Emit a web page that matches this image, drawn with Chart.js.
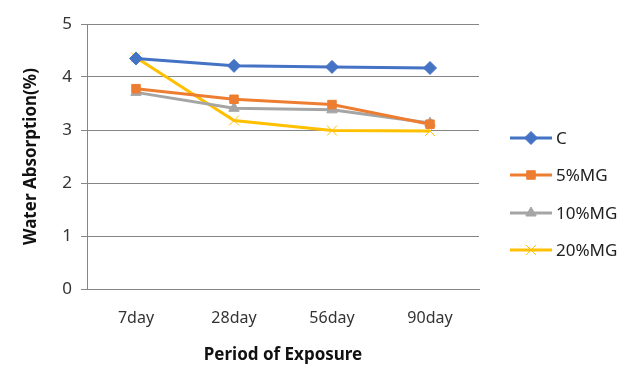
<!DOCTYPE html>
<html>
<head>
<meta charset="utf-8">
<script src="https://cdn.jsdelivr.net/npm/chart.js@4.4.0/dist/chart.umd.min.js"></script>
<style>
  html, body { margin: 0; padding: 0; background: #fff; }
  #wrap { width: 643px; height: 386px; }
</style>
</head>
<body>
<div id="wrap"><canvas id="waterChart" width="643" height="386"></canvas></div>
<script>
// data
const periods = ['7day', '28day', '56day', '90day'];
const seriesNames = ['C', '5%MG', '10%MG', '20%MG'];
const valuesC = [4.35, 4.21, 4.19, 4.17];
const values5 = [3.78, 3.58, 3.48, 3.11];
const values10 = [3.71, 3.41, 3.38, 3.13];
const values20 = [4.37, 3.18, 2.99, 2.98];
const yTicks = [0, 1, 2, 3, 4, 5];

const FONT = "'Noto Sans', 'Liberation Sans', sans-serif";

// line + marker legend like the spreadsheet one
const sideLegend = {
  id: 'sideLegend',
  afterDraw(chart) {
    const ctx = chart.ctx;
    const rowY = [138, 175, 213, 250];
    chart.data.datasets.forEach((ds, i) => {
      const y = rowY[i];
      ctx.save();
      ctx.strokeStyle = ds.borderColor;
      ctx.lineWidth = 3;
      ctx.beginPath();
      ctx.moveTo(510, y);
      ctx.lineTo(552, y);
      ctx.stroke();
      ctx.fillStyle = ds.pointBackgroundColor;
      ctx.strokeStyle = ds.pointBorderColor;
      ctx.lineWidth = ds.pointBorderWidth;
      Chart.helpers.drawPoint(ctx, {
        pointStyle: ds.pointStyle,
        radius: ds.pointRadius,
        rotation: ds.pointRotation || 0,
        borderWidth: ds.pointBorderWidth
      }, 531, y);
      ctx.fillStyle = '#222';
      ctx.font = '17px ' + FONT;
      ctx.textBaseline = 'middle';
      ctx.fillText(ds.label, 556, y + 1);
      ctx.restore();
    });
  }
};

const ctx = document.getElementById('waterChart').getContext('2d');
const chart = new Chart(ctx, {
  type: 'line',
  data: {
    labels: periods,
    datasets: [
      {
        label: seriesNames[0], data: valuesC,
        borderColor: '#4472C4', borderWidth: 3,
        pointStyle: 'rectRot', pointRadius: 6.5,
        pointBackgroundColor: '#4472C4', pointBorderColor: '#4472C4', pointBorderWidth: 1
      },
      {
        label: seriesNames[1], data: values5,
        borderColor: '#ED7D31', borderWidth: 3,
        pointStyle: 'rect', pointRadius: 6,
        pointBackgroundColor: '#ED7D31', pointBorderColor: '#ED7D31', pointBorderWidth: 1
      },
      {
        label: seriesNames[2], data: values10,
        borderColor: '#A5A5A5', borderWidth: 3,
        pointStyle: 'triangle', pointRadius: 6,
        pointBackgroundColor: '#A5A5A5', pointBorderColor: '#A5A5A5', pointBorderWidth: 1
      },
      {
        label: seriesNames[3], data: values20,
        borderColor: '#FFC000', borderWidth: 3,
        pointStyle: 'crossRot', pointRadius: 7,
        pointBackgroundColor: '#FFC000', pointBorderColor: '#FFC000', pointBorderWidth: 1
      }
    ]
  },
  options: {
    responsive: false,
    animation: false,
    layout: { padding: { top: 24, right: 164, bottom: 17, left: 17 } },
    plugins: {
      legend: { display: false },
      tooltip: { enabled: false }
    },
    scales: {
      x: {
        offset: true,
        grid: { display: false },
        border: { display: true, color: '#868686', width: 1 },
        ticks: { color: '#333', font: { family: FONT, size: 16 }, padding: 12 },
        title: {
          display: true, text: 'Period of Exposure', color: '#111',
          font: { family: FONT, size: 17, weight: 'bold' }, padding: { top: 8 }
        },
        afterFit(scale) { scale.height = 80; }
      },
      y: {
        min: 0, max: 5,
        afterBuildTicks(scale) { scale.ticks = yTicks.map(v => ({ value: v })); },
        grid: { color: '#868686', lineWidth: 1, tickLength: 6, drawTicks: true },
        border: { display: true, color: '#868686', width: 1 },
        ticks: { color: '#333', font: { family: FONT, size: 17 }, padding: 9 },
        title: {
          display: true, text: 'Water Absorption(%)', color: '#111',
          font: { family: FONT, size: 17, weight: 'bold' }, padding: { bottom: 8 }
        },
        afterFit(scale) { scale.width = 70; }
      }
    }
  },
  plugins: [sideLegend]
});
</script>
</body>
</html>
